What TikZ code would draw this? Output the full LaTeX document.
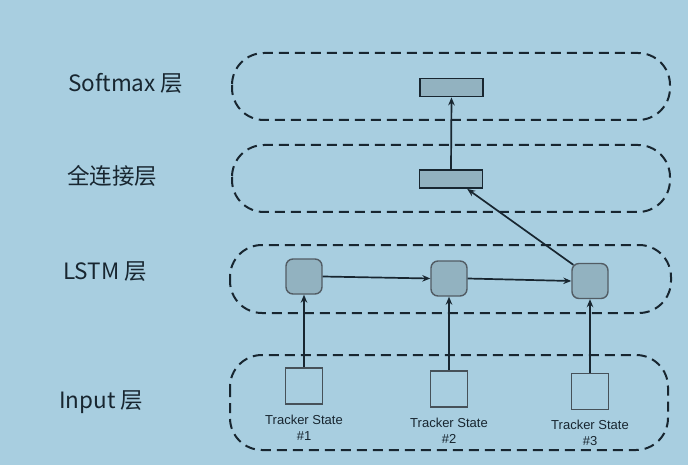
\documentclass[tikz,border=0pt]{standalone}
\usepackage{fontspec}
\setmainfont{Noto Sans CJK SC}
\newfontfamily\smallsans{Liberation Sans}
\usetikzlibrary{arrows.meta,calc}
\definecolor{bgblue}{RGB}{168,206,224}
\definecolor{ink}{RGB}{24,38,48}
\definecolor{cellfill}{RGB}{146,178,192}
\tikzset{
  layercap/.style={draw=ink, line width=2pt, dash pattern=on 10pt off 6pt, rounded corners=32pt},
  vecbox/.style={draw=ink, line width=1.8pt, fill=cellfill, minimum width=63pt, minimum height=18pt, inner sep=0pt},
  cellbox/.style={draw=ink!75, line width=1.4pt, fill=cellfill, rounded corners=7pt, minimum width=36pt, minimum height=35pt, inner sep=0pt},
  inbox/.style={draw=ink!80, line width=1.3pt, minimum width=37pt, minimum height=36pt, inner sep=0pt},
  flow/.style={draw=ink, line width=1.7pt, -{Stealth[length=8pt,width=6.5pt]}},
  layerlabel/.style={anchor=west, text=ink, font=\fontsize{22.5}{26}\selectfont, inner sep=0pt},
  tslabel/.style={anchor=north, text=ink, align=center, font=\smallsans\fontsize{13}{16}\selectfont, inner sep=0pt}
}
\begin{document}
\begin{tikzpicture}[x=1pt,y=-1pt]
\fill[bgblue] (0,0) rectangle (688,465);
\useasboundingbox (0,0) rectangle (688,465);

% layer capsules
\draw[layercap] (232,53) rectangle (670,120);
\draw[layercap] (232,145) rectangle (670,212);
\draw[layercap] (230,245) rectangle (671,313);
\draw[layercap] (230,355) rectangle (668,450);

% layer labels
\node[layerlabel] (lsoft) at (68,83) {Softmax 层};
\node[layerlabel] (lfc) at (67,176) {全连接层};
\node[layerlabel] (llstm) at (63,272) {LSTM 层};
\node[layerlabel] (lin) at (59,402) {Input 层};

% nodes
\node[vecbox] (soft) at (451.5,87.5) {};
\node[vecbox] (fc) at (451,179) {};

\node[cellbox] (l1) at (304,276.5) {};
\node[cellbox] (l2) at (449,278.5) {};
\node[cellbox] (l3) at (590,281) {};

\node[inbox] (i1) at (304,386) {};
\node[inbox] (i2) at (449,389) {};
\node[inbox] (i3) at (590,391.5) {};

\node[tslabel] (t1) at ($(i1.south)+(0,10)$) {Tracker State\\\#1};
\node[tslabel] (t2) at ($(i2.south)+(0,10)$) {Tracker State\\\#2};
\node[tslabel] (t3) at ($(i3.south)+(0,10)$) {Tracker State\\\#3};

% connectors
\draw[flow] (i1.north) -- (l1.south);
\draw[flow] (i2.north) -- (l2.south);
\draw[flow] (i3.north) -- (l3.south);
\draw[flow] (l1.east) -- (l2.west);
\draw[flow] (l2.east) -- (l3.west);
\draw[flow] ($(l3.north west)+(2,2)$) -- ($(fc.south)!0.5!(fc.south east)$);
\draw[flow] (fc.north) -- (soft.south);
\end{tikzpicture}
\end{document}
